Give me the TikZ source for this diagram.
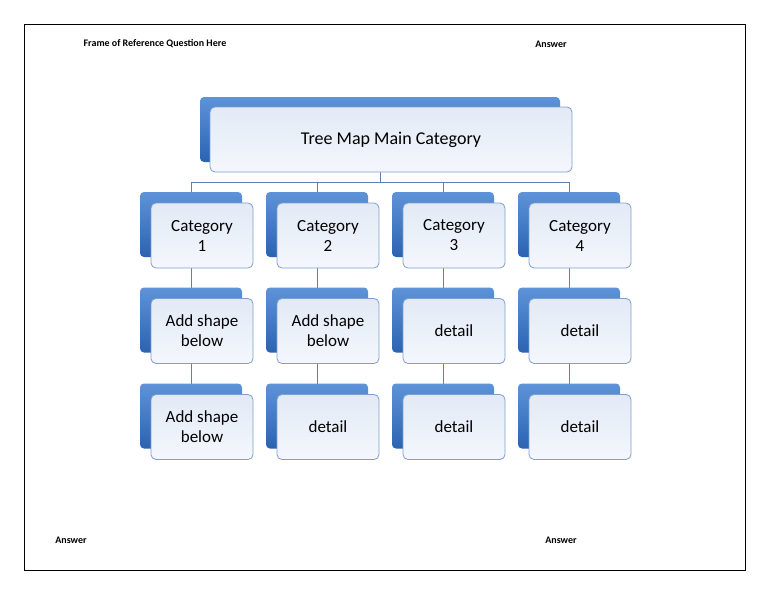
\documentclass[tikz,border=0pt]{standalone}
\usepackage{fontspec}
\setmainfont{Carlito}
\usetikzlibrary{backgrounds}
\definecolor{backtop}{HTML}{5E93D8}
\definecolor{backbot}{HTML}{2B63B2}
\definecolor{fronttop}{HTML}{E2EAF6}
\definecolor{frontbot}{HTML}{F4F7FC}
\definecolor{edge}{HTML}{7F9FCC}
\definecolor{link}{HTML}{5F80B0}

\tikzset{
  back/.style={rounded corners=4pt,top color=backtop,bottom color=backbot,draw=none},
  front/.style={rounded corners=5pt,top color=fronttop,bottom color=frontbot,draw=edge,line width=0.8pt,
    font=\fontsize{17}{20}\selectfont,align=center,inner sep=0pt},
  link/.style={draw=link,line width=0.8pt},
  note/.style={font=\bfseries\fontsize{10}{12}\selectfont}
}
\newcommand{\treebox}[4]{%
  \node[back,minimum width=102pt,minimum height=65pt] (b#1) at (#2-11,#3-11) {};
  \node[front,minimum width=102pt,minimum height=65pt] (#1) at (#2,#3) {#4};
}

\begin{document}
\begin{tikzpicture}[x=1pt,y=-1pt]
  \useasboundingbox (0,0) rectangle (768,594);
  \draw[line width=0.8pt] (24,24) rectangle (745,570);
  \node[note] (q) at (155,44) {Frame of Reference Question Here};
  \node[note] (a1) at (551,44) {Answer};
  \node[note] (a2) at (71,540) {Answer};
  \node[note] (a3) at (561,540) {Answer};

  % main category
  \node[back,minimum width=360pt,minimum height=65pt] (bmain) at (380,129.5) {};
  \node[front,minimum width=362pt,minimum height=65pt,font=\fontsize{18}{21}\selectfont] (main) at (391,139.5) {Tree Map Main Category};

  % columns
  \treebox{c1}{202}{235.5}{Category\\1}
  \treebox{c2}{328}{235.5}{Category\\2}
  \treebox{c3}{454}{235.5}{Category\\3}
  \treebox{c4}{580}{235.5}{Category\\4}
  \treebox{d1}{202}{331}{Add shape\\below}
  \treebox{d2}{328}{331}{Add shape\\below}
  \treebox{d3}{454}{331}{detail}
  \treebox{d4}{580}{331}{detail}
  \treebox{e1}{202}{427}{Add shape\\below}
  \treebox{e2}{328}{427}{detail}
  \treebox{e3}{454}{427}{detail}
  \treebox{e4}{580}{427}{detail}

  \begin{scope}[on background layer]
    \coordinate (j) at (380,182);
    \draw[link] (380,172) -- (j);
    \draw[link] (bc1.north |- j) -- (bc4.north |- j);
    \foreach \i in {1,...,4} {
      \draw[link] (bc\i.north |- j) -- (bc\i.north);
      \draw[link] (bc\i.center) -- (be\i.center);
    }
  \end{scope}
\end{tikzpicture}
\end{document}
